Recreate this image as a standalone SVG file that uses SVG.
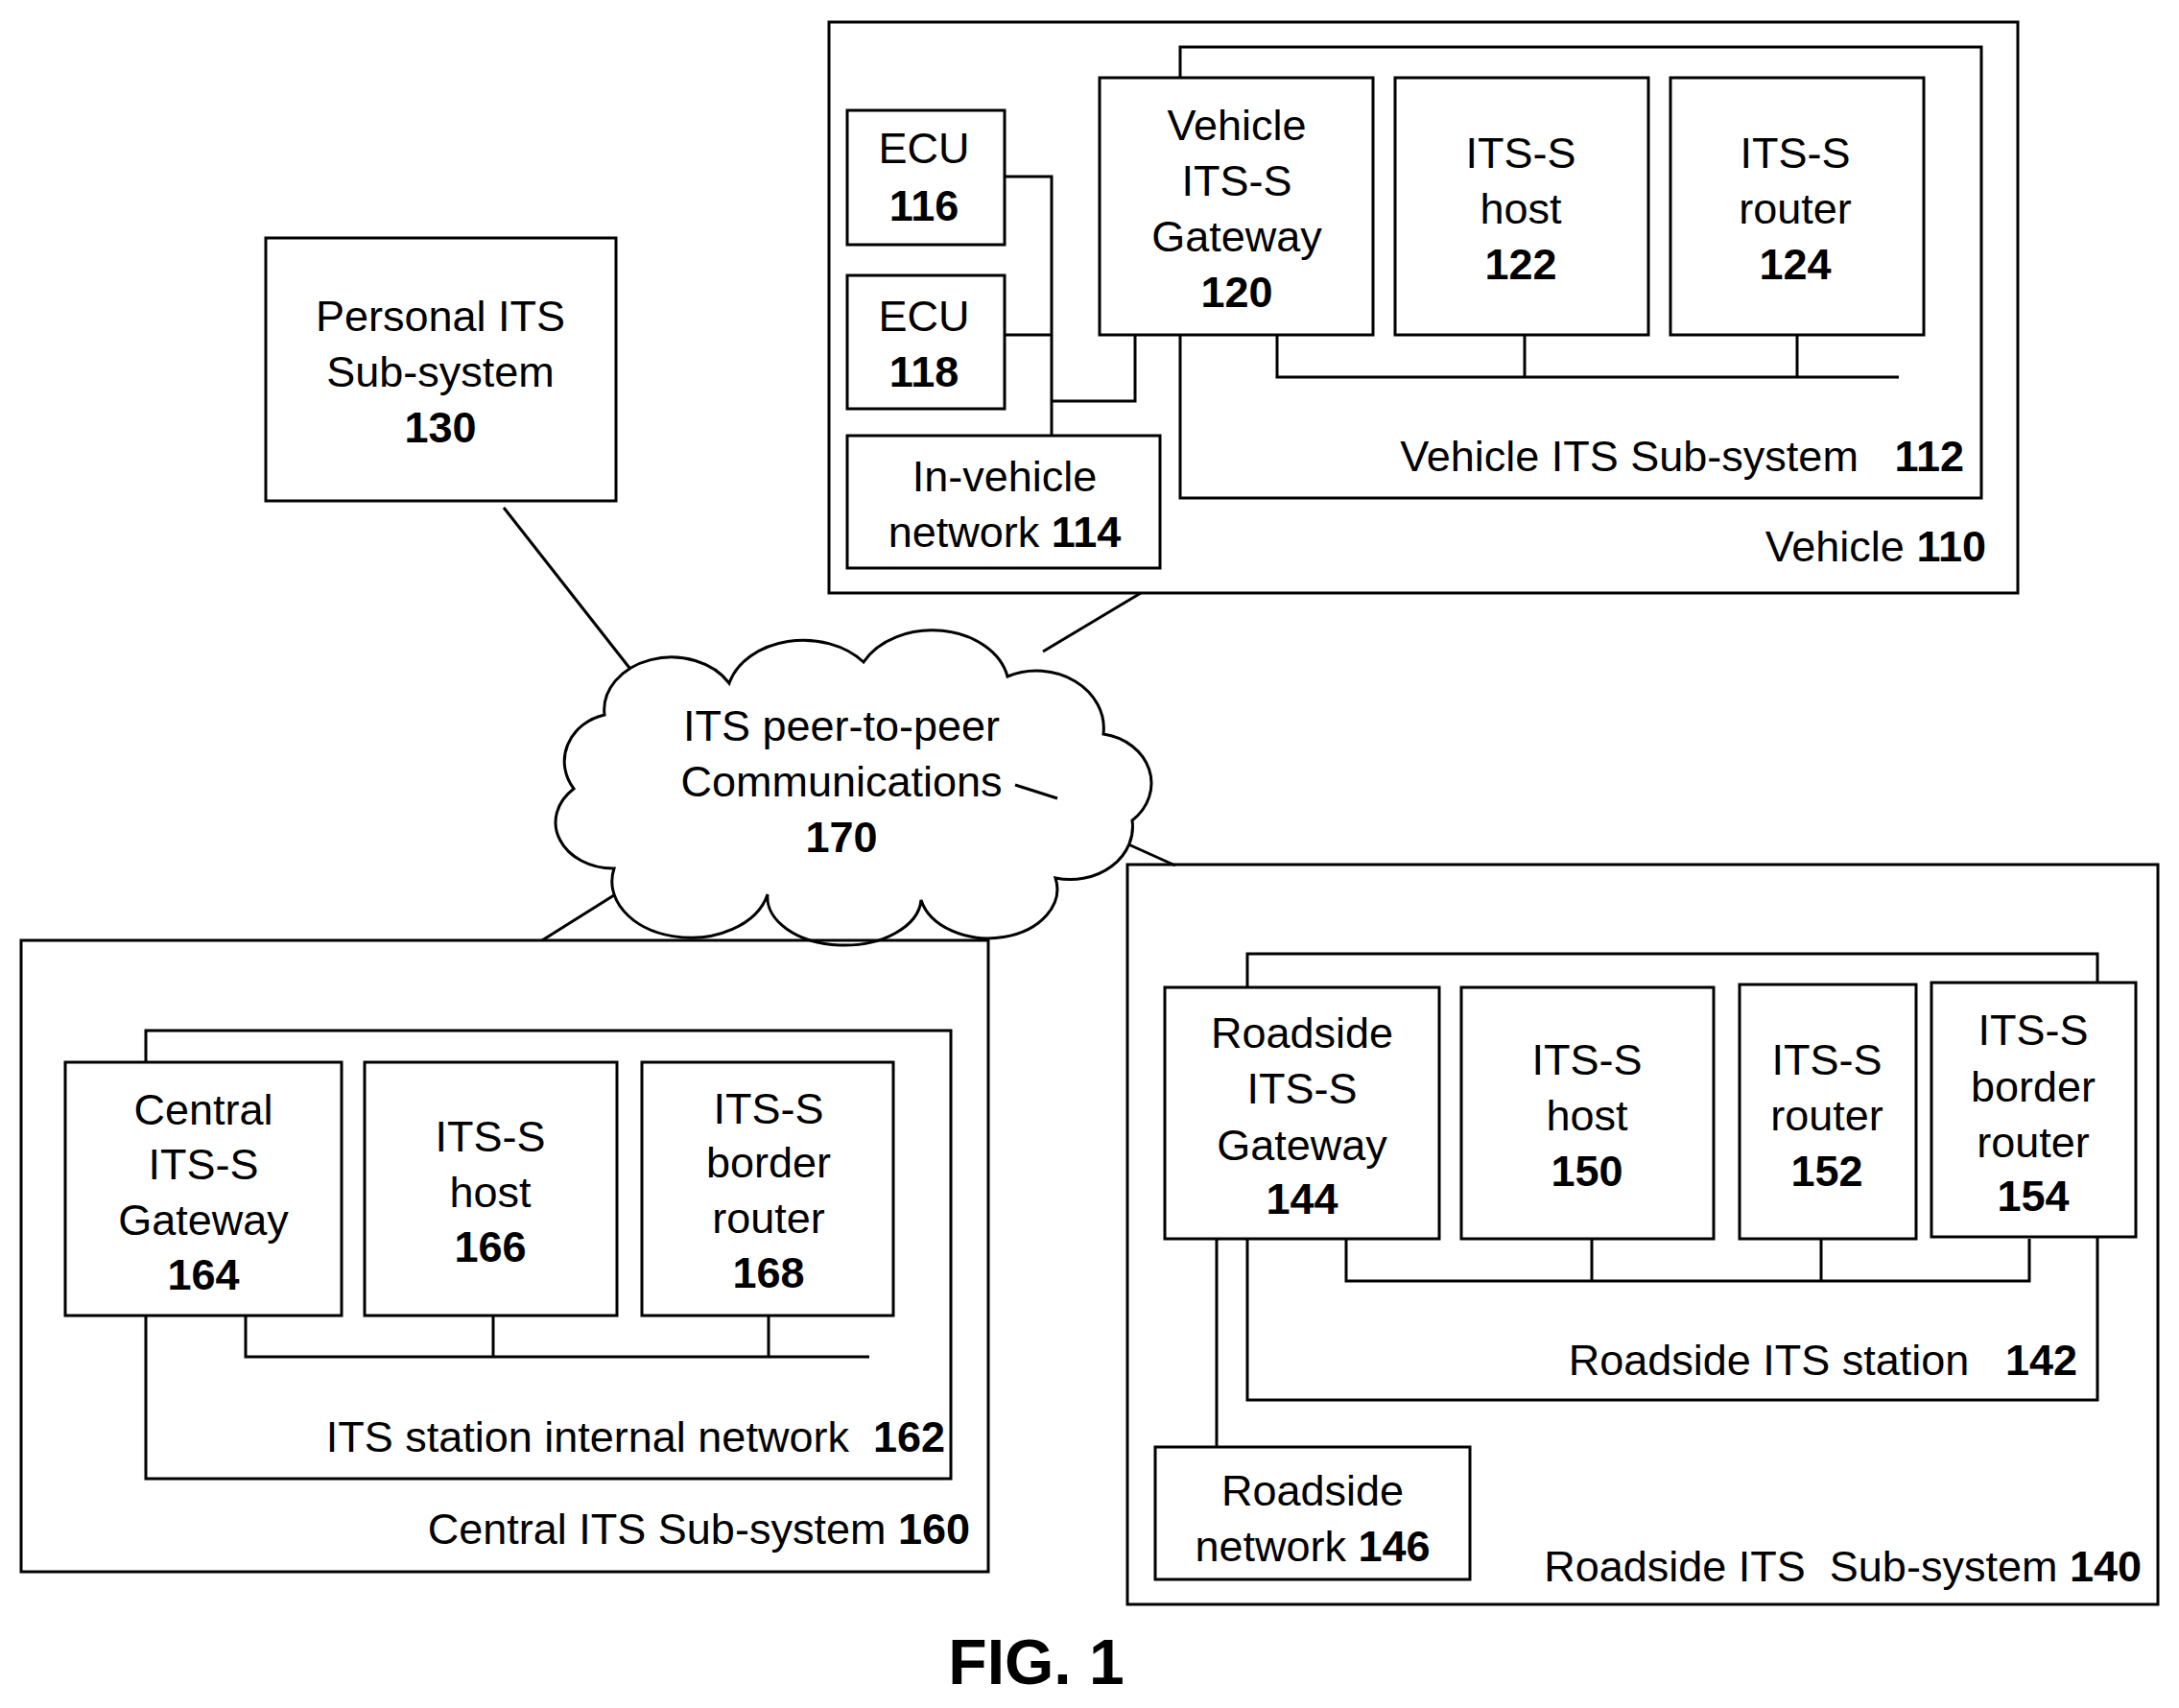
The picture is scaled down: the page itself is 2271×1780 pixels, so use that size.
<svg xmlns="http://www.w3.org/2000/svg" width="2271" height="1780" viewBox="0 0 2271 1780">
<style>
rect,path,line,polyline{fill:none;stroke:#000;stroke-width:3}
.n{fill:#fff}
text{font-family:"Liberation Sans",Arial,sans-serif;font-size:45px;text-anchor:middle;fill:#000;white-space:pre}
.b{font-weight:bold}
.r{text-anchor:end}
</style>
<rect width="2271" height="1780" fill="#fff" style="stroke:none"/>
<g id="connectors">
<line x1="525" y1="529" x2="667" y2="710"/>
<line x1="1189" y1="618" x2="1087" y2="679"/>
<line x1="1145" y1="866" x2="1225" y2="902"/>
<line x1="667" y1="916" x2="565" y2="980"/>
<polyline points="1047,184 1096,184 1096,454"/>
<line x1="1047" y1="349" x2="1096" y2="349"/>
<polyline points="1096,418 1183,418 1183,349"/>
<polyline points="1331,349 1331,393 1979,393"/>
<line x1="1589" y1="349" x2="1589" y2="393"/>
<line x1="1873" y1="349" x2="1873" y2="393"/>
<polyline points="256,1371 256,1414 906,1414"/>
<line x1="514" y1="1371" x2="514" y2="1414"/>
<line x1="801" y1="1371" x2="801" y2="1414"/>
<polyline points="1403,1291 1403,1335 2115,1335 2115,1291"/>
<line x1="1659" y1="1291" x2="1659" y2="1335"/>
<line x1="1898" y1="1291" x2="1898" y2="1335"/>
<line x1="1268" y1="1291" x2="1268" y2="1508"/>
</g>
<g id="vehicle110"><rect x="864" y="23" width="1239" height="595"/><text class="r" x="2070" y="585">Vehicle <tspan class="b">110</tspan></text></g>
<g id="vsub112"><rect x="1230" y="49" width="835" height="470"/><text class="r" x="2047" y="491">Vehicle ITS Sub-system   <tspan class="b">112</tspan></text></g>
<g id="ecu116"><rect class="n" x="883" y="115" width="164" height="140"/><text x="963" y="170">ECU</text><text class="b" x="963" y="230">116</text></g>
<g id="ecu118"><rect class="n" x="883" y="287" width="164" height="139"/><text x="963" y="345">ECU</text><text class="b" x="963" y="403">118</text></g>
<g id="invehicle114"><rect class="n" x="883" y="454" width="326" height="138"/><text x="1047" y="512">In-vehicle</text><text x="1047" y="570">network <tspan class="b">114</tspan></text></g>
<g id="gw120"><rect class="n" x="1146" y="81" width="285" height="268"/><text x="1289" y="146">Vehicle</text><text x="1289" y="204">ITS-S</text><text x="1289" y="262">Gateway</text><text class="b" x="1289" y="320">120</text></g>
<g id="host122"><rect class="n" x="1454" y="81" width="264" height="268"/><text x="1585" y="175">ITS-S</text><text x="1585" y="233">host</text><text class="b" x="1585" y="291">122</text></g>
<g id="router124"><rect class="n" x="1741" y="81" width="264" height="268"/><text x="1871" y="175">ITS-S</text><text x="1871" y="233">router</text><text class="b" x="1871" y="291">124</text></g>
<g id="personal130"><rect class="n" x="277" y="248" width="365" height="274"/><text x="459" y="345">Personal ITS</text><text x="459" y="403">Sub-system</text><text class="b" x="459" y="461">130</text></g>
<g id="cloud170"><path class="n" d="M640,905 A60,48 0 0 1 598,822 A55,50 0 0 1 630,745 A70,55 0 0 1 760,712 A80,60 0 0 1 900,690 A80,60 0 0 1 1050,705 A70,60 0 0 1 1150,765 A60,52 0 0 1 1180,855 A65,55 0 0 1 1100,915 A70,50 0 0 1 960,938 A80,50 0 0 1 800,932 A70,50 0 0 1 640,905 Z"/><line x1="1058" y1="818" x2="1102" y2="832"/><text x="877" y="772">ITS peer-to-peer</text><text x="877" y="830">Communications</text><text class="b" x="877" y="888">170</text></g>
<g id="central160"><rect x="22" y="980" width="1008" height="658"/><text class="r" x="1011" y="1609">Central ITS Sub-system <tspan class="b">160</tspan></text></g>
<g id="net162"><rect x="152" y="1074" width="839" height="467"/><text class="r" x="985" y="1513">ITS station internal network  <tspan class="b">162</tspan></text></g>
<g id="gw164"><rect class="n" x="68" y="1107" width="288" height="264"/><text x="212" y="1172">Central</text><text x="212" y="1229">ITS-S</text><text x="212" y="1287">Gateway</text><text class="b" x="212" y="1344">164</text></g>
<g id="host166"><rect class="n" x="380" y="1107" width="263" height="264"/><text x="511" y="1200">ITS-S</text><text x="511" y="1258">host</text><text class="b" x="511" y="1315">166</text></g>
<g id="border168"><rect class="n" x="669" y="1107" width="262" height="264"/><text x="801" y="1171">ITS-S</text><text x="801" y="1227">border</text><text x="801" y="1285">router</text><text class="b" x="801" y="1342">168</text></g>
<g id="roadside140"><rect x="1175" y="901" width="1074" height="771"/><text class="r" x="2232" y="1648">Roadside ITS  Sub-system <tspan class="b">140</tspan></text></g>
<g id="station142"><rect x="1300" y="994" width="886" height="465"/><text class="r" x="2165" y="1433">Roadside ITS station   <tspan class="b">142</tspan></text></g>
<g id="gw144"><rect class="n" x="1214" y="1029" width="286" height="262"/><text x="1357" y="1092">Roadside</text><text x="1357" y="1150">ITS-S</text><text x="1357" y="1209">Gateway</text><text class="b" x="1357" y="1265">144</text></g>
<g id="host150"><rect class="n" x="1523" y="1029" width="263" height="262"/><text x="1654" y="1120">ITS-S</text><text x="1654" y="1178">host</text><text class="b" x="1654" y="1236">150</text></g>
<g id="router152"><rect class="n" x="1813" y="1026" width="184" height="265"/><text x="1904" y="1120">ITS-S</text><text x="1904" y="1178">router</text><text class="b" x="1904" y="1236">152</text></g>
<g id="border154"><rect class="n" x="2013" y="1024" width="213" height="265"/><text x="2119" y="1089">ITS-S</text><text x="2119" y="1148">border</text><text x="2119" y="1206">router</text><text class="b" x="2119" y="1262">154</text></g>
<g id="rnet146"><rect class="n" x="1204" y="1508" width="328" height="138"/><text x="1368" y="1569">Roadside</text><text x="1368" y="1627">network <tspan class="b">146</tspan></text></g>
<text class="b" x="1080" y="1755" style="font-size:66px">FIG. 1</text>
</svg>
